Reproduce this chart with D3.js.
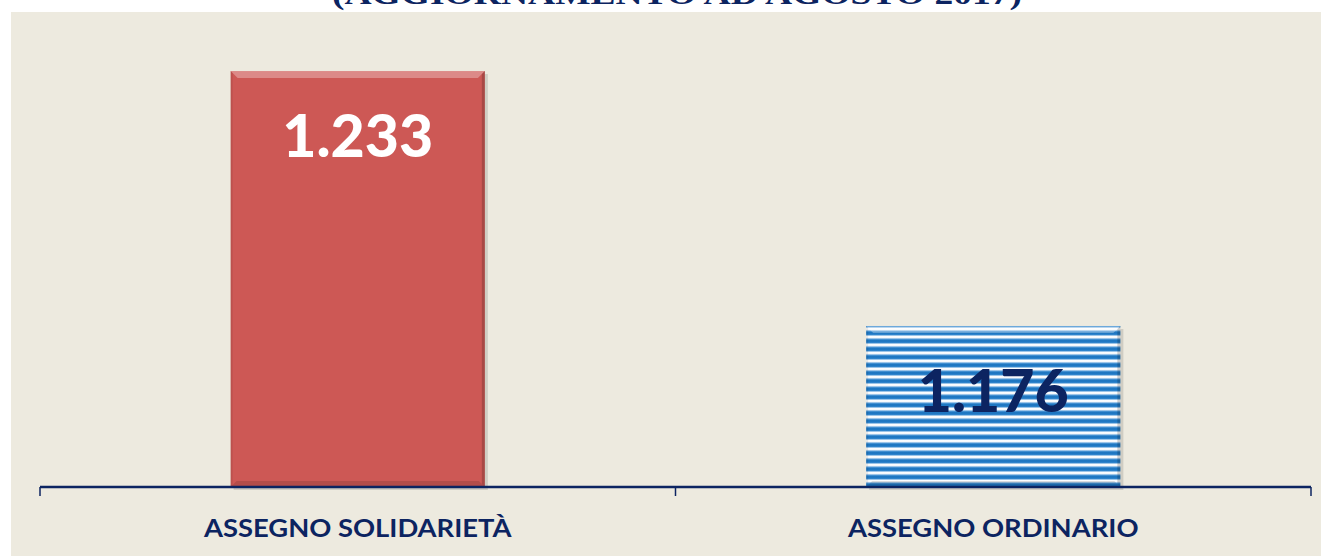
<!DOCTYPE html>
<html>
<head>
<meta charset="utf-8">
<script src="https://cdn.jsdelivr.net/npm/d3@7"></script>
<style>
  body { margin: 0; background: #ffffff; }
  svg { display: block; }
</style>
</head>
<body>
<div id="chart"></div>
<script>
// data
const categories = ['ASSEGNO SOLIDARIETÀ', 'ASSEGNO ORDINARIO'];
const values = [1.233, 1.176];
const valueLabels = ['1.233', '1.176'];
const titleText = '(AGGIORNAMENTO AD AGOSTO 2017)';

const W = 1321, H = 556;
const margin = { top: 12, left: 40, right: 10, bottom: 69 };

const svg = d3.select('#chart').append('svg')
    .attr('width', W)
    .attr('height', H);

// chart area background
svg.append('rect')
    .attr('x', 11).attr('y', 12)
    .attr('width', W - 11).attr('height', H - 12)
    .attr('fill', '#edeadf');

// title (cut off at the top, like the original slide)
svg.append('text')
    .attr('x', 677).attr('y', 4)
    .attr('text-anchor', 'middle')
    .attr('textLength', 690)
    .attr('lengthAdjust', 'spacingAndGlyphs')
    .style('font', 'bold 30px "Liberation Serif", serif')
    .style('fill', '#0c2461')
    .text(titleText);

const defs = svg.append('defs');

// stripes for the second bar
const pat = defs.append('pattern')
    .attr('id', 'stripes')
    .attr('patternUnits', 'userSpaceOnUse')
    .attr('width', 8).attr('height', 8);
const sg = defs.append('linearGradient')
    .attr('id', 'stripeGrad')
    .attr('x1', 0).attr('y1', 0).attr('x2', 0).attr('y2', 1);
sg.append('stop').attr('offset', '0%').attr('stop-color', '#ffffff');
sg.append('stop').attr('offset', '22%').attr('stop-color', '#f4f8fc');
sg.append('stop').attr('offset', '40%').attr('stop-color', '#4b96d6');
sg.append('stop').attr('offset', '60%').attr('stop-color', '#1570bd');
sg.append('stop').attr('offset', '82%').attr('stop-color', '#2f84cc');
sg.append('stop').attr('offset', '100%').attr('stop-color', '#d8e8f6');
pat.append('rect').attr('width', 8).attr('height', 8).attr('fill', 'url(#stripeGrad)');

const fills = ['#cd5855', 'url(#stripes)'];
const labelColors = ['#ffffff', '#0c2461'];

const x = d3.scaleBand()
    .domain(categories)
    .range([margin.left, W - margin.right])
    .paddingInner(0.6)
    .paddingOuter(0.3);

const y = d3.scaleLinear()
    .domain([1.14, 1.2462])
    .range([H - margin.bottom, margin.top]);

const baseY = y(1.14);

const bars = svg.append('g').selectAll('g')
    .data(categories)
    .join('g');

// drop shadow
bars.append('rect')
    .attr('x', d => x(d) + 3)
    .attr('y', (d, i) => y(values[i]) + 3)
    .attr('width', x.bandwidth())
    .attr('height', (d, i) => baseY - y(values[i]))
    .attr('fill', 'rgba(0,0,0,0.12)');

bars.append('rect')
    .attr('x', d => x(d))
    .attr('y', (d, i) => y(values[i]))
    .attr('width', x.bandwidth())
    .attr('height', (d, i) => baseY - y(values[i]))
    .attr('fill', (d, i) => fills[i]);

// bevel edges
const bev = 7;
bars.append('path')
    .attr('d', (d, i) => {
        const x0 = x(d), x1 = x(d) + x.bandwidth(), y0 = y(values[i]);
        return `M${x0},${y0}L${x1},${y0}L${x1 - bev},${y0 + bev}L${x0 + bev},${y0 + bev}Z`;
    })
    .attr('fill', 'rgba(255,255,255,0.3)');
bars.append('path')
    .attr('d', (d, i) => {
        const x1 = x(d) + x.bandwidth(), y0 = y(values[i]);
        return `M${x1},${y0}L${x1},${baseY}L${x1 - 3},${baseY - 3}L${x1 - 3},${y0 + 3}Z`;
    })
    .attr('fill', 'rgba(0,0,0,0.18)');
bars.append('path')
    .attr('d', (d, i) => {
        const x0 = x(d), y0 = y(values[i]);
        return `M${x0},${y0}L${x0},${baseY}L${x0 + 2},${baseY - 2}L${x0 + 2},${y0 + 2}Z`;
    })
    .attr('fill', 'rgba(0,0,0,0.08)');
bars.append('path')
    .attr('d', (d, i) => {
        const x0 = x(d), x1 = x(d) + x.bandwidth();
        return `M${x0},${baseY}L${x1},${baseY}L${x1 - 6},${baseY - 6}L${x0 + 6},${baseY - 6}Z`;
    })
    .attr('fill', 'rgba(0,0,0,0.12)');

// value labels
bars.append('text')
    .attr('x', d => x(d) + x.bandwidth() / 2)
    .attr('y', (d, i) => y(values[i]) + 86)
    .attr('text-anchor', 'middle')
    .style('font', '900 59px Lato, sans-serif')
    .style('fill', (d, i) => labelColors[i])
    .text((d, i) => valueLabels[i]);

// x axis
const xAxis = svg.append('g')
    .attr('transform', `translate(0,${baseY})`);
xAxis.append('line')
    .attr('x1', margin.left).attr('x2', W - margin.right)
    .attr('stroke', '#0c2461').attr('stroke-width', 2.5);
const ticks = [margin.left, ...categories.slice(1).map(c => x(c) - x.step() * x.paddingInner() / 2), W - margin.right];
xAxis.selectAll('.tk')
    .data(ticks)
    .join('line')
    .attr('class', 'tk')
    .attr('x1', d => d).attr('x2', d => d)
    .attr('y1', 0).attr('y2', 9)
    .attr('stroke', '#0c2461').attr('stroke-width', 1.5);
xAxis.selectAll('.lbl')
    .data(categories)
    .join('text')
    .attr('class', 'lbl')
    .attr('x', d => x(d) + x.bandwidth() / 2)
    .attr('y', 50)
    .attr('text-anchor', 'middle')
    .style('font', 'bold 24px Lato, sans-serif')
    .style('fill', '#0c2461')
    .text(d => d)
    .each(function () {
        // widen a little, the original font runs wider than Lato here
        const len = this.getComputedTextLength();
        d3.select(this)
            .attr('textLength', len * 1.14)
            .attr('lengthAdjust', 'spacingAndGlyphs');
    });
</script>
</body>
</html>
